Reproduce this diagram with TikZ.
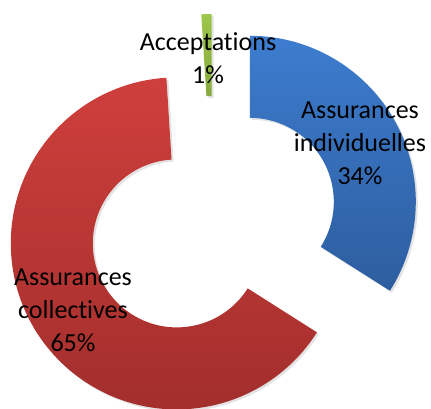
\documentclass[tikz,border=0pt]{standalone}
\usepackage{fontspec}
\setmainfont[Ligatures={NoCommon,NoRare,NoContextual},Contextuals=NoAlternate]{Carlito}
\usepackage{tikz}
\usetikzlibrary{shadows}

\definecolor{indivtop}{HTML}{3D7CCF}
\definecolor{indivbot}{HTML}{2D5E9F}
\definecolor{colltop}{HTML}{CE3F3C}
\definecolor{collbot}{HTML}{A22E2C}
\definecolor{acctop}{HTML}{9DC64B}
\definecolor{accbot}{HTML}{86AA3B}

\tikzset{
  slice/.style={drop shadow={opacity=0.22, shadow xshift=2pt, shadow yshift=-2pt}},
  label/.style={align=center, font=\fontsize{26}{33}\selectfont, inner sep=0pt}
}

\begin{document}
\begin{tikzpicture}[x=1pt,y=1pt]
    \useasboundingbox (0,0) rectangle (431,408);

    % Draw slices
    \shade[slice, top color=indivtop, bottom color=indivbot, shift={(249.8,206.2)}]
        (90:166) arc[start angle=90, end angle=-32.4, radius=166]
        -- (-32.4:84) arc[start angle=-32.4, end angle=90, radius=84] -- cycle;
    \shade[slice, top color=colltop, bottom color=collbot, shift={(176.8,164.6)}]
        (93.6:166) arc[start angle=93.6, end angle=327.6, radius=166]
        -- (327.6:84) arc[start angle=327.6, end angle=93.6, radius=84] -- cycle;
    \shade[slice, top color=acctop, bottom color=accbot, shift={(211.7,228)}]
        (90:166) arc[start angle=90, end angle=93.6, radius=166]
        -- (93.6:84) arc[start angle=93.6, end angle=90, radius=84] -- cycle;

    % Define nodes
    \node[label] (acc) at (208,349.5) {Acceptations\\1\%};
    \node[label] (indiv) at (360,265) {Assurances\\individuelles\\34\%};
    \node[label] (coll) at (73,98) {Assurances\\collectives\\65\%};
\end{tikzpicture}
\end{document}
